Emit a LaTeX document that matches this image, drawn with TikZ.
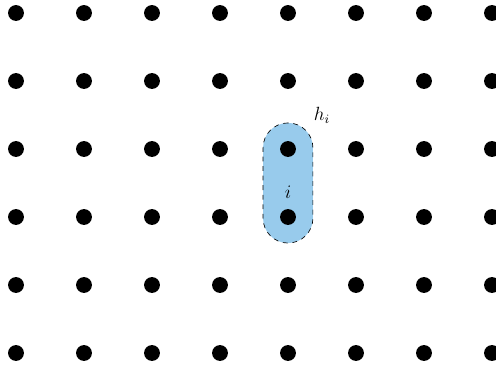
\documentclass[tikz,border=0pt]{standalone}
\usepackage{amsmath, amssymb}
\usetikzlibrary{calc}
\usetikzlibrary{positioning}
\definecolor{hblue}{RGB}{152,203,236}

\begin{document}
\begin{tikzpicture}[x=1.5cm, y=1.5cm,
					dot/.style={circle, fill=black, inner sep=0pt, minimum size=0.35cm},
					region/.style={rounded corners=0.55cm, fill=hblue, draw=black, dashed, thin, minimum width=1.1cm, minimum height=2.65cm}
					]
					
					\useasboundingbox (-0.235, -0.25) rectangle (7.059, 5.191);
					
					%Region
					\node[region] (h) at (4, 2.5) {};
					
					%Nodes
					\foreach \c in {0,...,7}
						\foreach \r in {0,...,5}
							\node[dot] (d\c\r) at (\c, \r) {};
					
					%Labels
					\node (i)  at (4, 2.36)  {\large $i$};
					\node (hi) at (4.5, 3.5) {\large $h_i$};
				\end{tikzpicture}
\end{document}
